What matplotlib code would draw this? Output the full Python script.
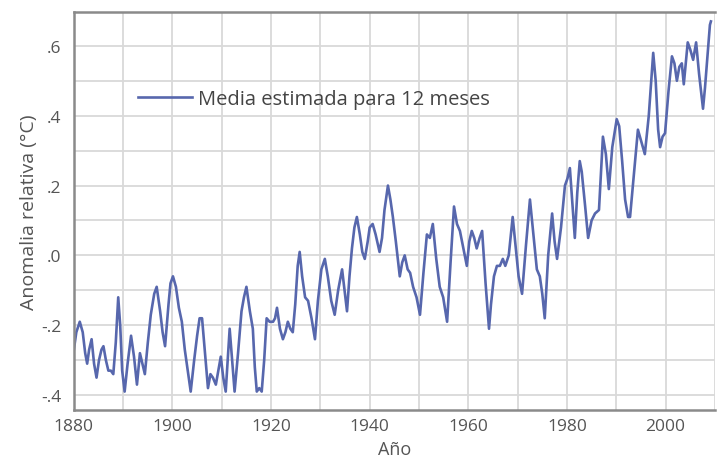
import matplotlib.pyplot as plt
from matplotlib.ticker import MultipleLocator

# Media estimada para 12 meses
anios = [
    1880.0, 1880.5, 1881.2, 1881.8, 1882.3, 1882.7, 1883.1, 1883.6, 1884.1, 1884.6,
    1885.1, 1885.6, 1886.0, 1886.5, 1887.0, 1887.5, 1888.0, 1888.5, 1889.0, 1889.4,
    1889.8, 1890.3, 1890.9, 1891.6, 1892.2, 1892.8, 1893.4, 1893.9, 1894.4, 1895.0,
    1895.6, 1896.3, 1896.8, 1897.5, 1898.0, 1898.5, 1899.2, 1899.6, 1900.1, 1900.7,
    1901.3, 1901.9, 1902.5, 1903.1, 1903.7, 1904.4, 1905.0, 1905.5, 1906.0, 1906.6,
    1907.2, 1907.7, 1908.2, 1908.8, 1909.3, 1909.8, 1910.3, 1910.8, 1911.2, 1911.6,
    1912.1, 1912.6, 1913.3, 1914.0, 1914.5, 1915.0, 1915.7, 1916.3, 1916.7, 1917.1,
    1917.6, 1918.1, 1918.6, 1919.1, 1919.7, 1920.4, 1920.8, 1921.2, 1921.8, 1922.4,
    1922.9, 1923.4, 1923.9, 1924.4, 1924.9, 1925.4, 1925.8, 1926.3, 1926.9, 1927.5,
    1928.2, 1928.9, 1929.5, 1930.2, 1930.9, 1931.5, 1932.2, 1932.9, 1933.6, 1934.4,
    1934.9, 1935.4, 1935.9, 1936.4, 1936.9, 1937.4, 1938.0, 1938.5, 1939.0, 1939.6,
    1940.0, 1940.6, 1941.2, 1942.0, 1942.5, 1943.0, 1943.7, 1944.2, 1944.7, 1945.3,
    1946.1, 1946.6, 1947.1, 1947.7, 1948.2, 1948.8, 1949.5, 1950.2, 1950.9, 1951.6,
    1952.2, 1952.8, 1953.5, 1954.2, 1954.9, 1955.7, 1956.4, 1957.1, 1957.7, 1958.3,
    1959.0, 1959.7, 1960.2, 1960.7, 1961.2, 1961.7, 1962.3, 1962.8, 1963.5, 1964.2,
    1964.6, 1965.2, 1965.8, 1966.4, 1967.0, 1967.5, 1968.2, 1969.0, 1969.5, 1970.2,
    1970.9, 1971.7, 1972.5, 1973.2, 1973.9, 1974.5, 1975.0, 1975.5, 1976.2, 1977.0,
    1977.5, 1978.0, 1978.8, 1979.6, 1980.1, 1980.6, 1981.1, 1981.6, 1982.1, 1982.6,
    1983.0, 1983.7, 1984.3, 1985.0, 1985.7, 1986.5, 1987.3, 1987.9, 1988.5, 1989.2,
    1990.1, 1990.6, 1991.2, 1991.8, 1992.4, 1992.8, 1993.5, 1994.4, 1995.0, 1995.8,
    1996.6, 1997.0, 1997.5, 1998.0, 1998.5, 1998.9, 1999.4, 1999.9, 2000.6, 2001.3,
    2001.8, 2002.3, 2002.8, 2003.3, 2003.7, 2004.1, 2004.5, 2005.0, 2005.6, 2006.2,
    2006.8, 2007.6, 2008.0, 2008.5, 2009.0, 2009.2,
]
anomalia = [
    -0.27, -0.22, -0.19, -0.22, -0.28, -0.31, -0.27, -0.24, -0.31, -0.35,
    -0.30, -0.27, -0.26, -0.30, -0.33, -0.33, -0.34, -0.25, -0.12, -0.20,
    -0.33, -0.39, -0.31, -0.23, -0.29, -0.37, -0.28, -0.31, -0.34, -0.25,
    -0.17, -0.11, -0.09, -0.16, -0.22, -0.26, -0.14, -0.08, -0.06, -0.09,
    -0.15, -0.19, -0.27, -0.33, -0.39, -0.30, -0.23, -0.18, -0.18, -0.28,
    -0.38, -0.34, -0.35, -0.37, -0.33, -0.29, -0.35, -0.39, -0.30, -0.21,
    -0.30, -0.39, -0.28, -0.16, -0.12, -0.09, -0.16, -0.21, -0.32, -0.39,
    -0.38, -0.39, -0.30, -0.18, -0.19, -0.19, -0.18, -0.15, -0.21, -0.24,
    -0.22, -0.19, -0.21, -0.22, -0.14, -0.03, 0.01, -0.06, -0.12, -0.13,
    -0.18, -0.24, -0.13, -0.04, -0.01, -0.06, -0.13, -0.17, -0.10, -0.04,
    -0.10, -0.16, -0.06, 0.02, 0.08, 0.11, 0.06, 0.01, -0.01, 0.04,
    0.08, 0.09, 0.06, 0.01, 0.05, 0.13, 0.20, 0.16, 0.11, 0.04,
    -0.06, -0.02, 0.00, -0.04, -0.05, -0.09, -0.12, -0.17, -0.05, 0.06,
    0.05, 0.09, -0.01, -0.09, -0.12, -0.19, -0.02, 0.14, 0.09, 0.07,
    0.02, -0.03, 0.04, 0.07, 0.05, 0.02, 0.05, 0.07, -0.08, -0.21,
    -0.14, -0.06, -0.03, -0.03, -0.01, -0.03, 0.00, 0.11, 0.04, -0.06,
    -0.11, 0.03, 0.16, 0.06, -0.04, -0.06, -0.11, -0.18, 0.00, 0.12,
    0.04, -0.01, 0.08, 0.20, 0.22, 0.25, 0.15, 0.05, 0.18, 0.27,
    0.24, 0.14, 0.05, 0.10, 0.12, 0.13, 0.34, 0.29, 0.19, 0.31,
    0.39, 0.37, 0.27, 0.16, 0.11, 0.11, 0.22, 0.36, 0.33, 0.29,
    0.40, 0.48, 0.58, 0.50, 0.36, 0.31, 0.34, 0.35, 0.47, 0.57,
    0.55, 0.50, 0.54, 0.55, 0.49, 0.55, 0.61, 0.59, 0.56, 0.61,
    0.52, 0.42, 0.48, 0.57, 0.66, 0.67,
]

anios_ticks = [1880, 1900, 1920, 1940, 1960, 1980, 2000]
y_ticks = [-0.4, -0.2, 0.0, 0.2, 0.4, 0.6]
y_etiquetas = ['-.4', '-.2', '.0', '.2', '.4', '.6']

plt.rcParams['font.family'] = ['Open Sans', 'DejaVu Sans']

fig = plt.figure(figsize=(7.17, 4.64), dpi=100)
ax = fig.add_axes([0.103, 0.114, 0.894, 0.858])

ax.plot(anios, anomalia, color='#5767ad', linewidth=1.9,
        label='Media estimada para 12 meses')

ax.set_xlim(1880, 2010)
ax.set_ylim(-0.443, 0.697)

ax.set_xticks(anios_ticks)
ax.set_xticklabels([str(a) for a in anios_ticks])
ax.set_yticks(y_ticks)
ax.set_yticklabels(y_etiquetas)
ax.xaxis.set_minor_locator(MultipleLocator(10))
ax.yaxis.set_minor_locator(MultipleLocator(0.1))
ax.grid(True, which='both', color='#d9d9d9', linewidth=1.3)
ax.set_axisbelow(True)
ax.tick_params(which='both', length=0, labelsize=12.5, colors='#555555')
ax.tick_params(axis='x', pad=6)
ax.tick_params(axis='y', pad=9)

for lado in ['left', 'bottom', 'top']:
    ax.spines[lado].set_color('#8a8a8a')
    ax.spines[lado].set_linewidth(1.8)
ax.spines['right'].set_visible(False)

ax.set_xlabel('Año', fontsize=13, color='#555555', labelpad=4)
ax.set_ylabel('Anomalia relativa (°C)', fontsize=14, color='#555555', labelpad=2)

ax.legend(loc='center left', bbox_to_anchor=(0.0998, 0.781), frameon=False,
          borderaxespad=0, borderpad=0,
          fontsize=14.5, handlelength=2.7, handletextpad=0.3,
          labelcolor='#444444')

plt.savefig('out.png', dpi=100)
